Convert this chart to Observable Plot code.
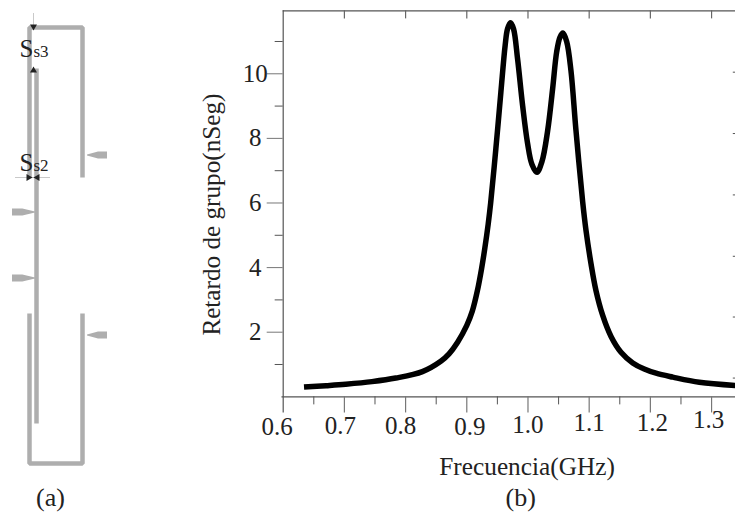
<!DOCTYPE html>
<html>
<head>
<meta charset="utf-8">
<script src="https://cdn.jsdelivr.net/npm/d3@7"></script>
<script src="https://cdn.jsdelivr.net/npm/@observablehq/plot@0.6"></script>
<style>
html,body{margin:0;padding:0;background:#fff}
#wrap{position:relative;width:735px;height:515px;overflow:hidden}
#wrap svg{position:absolute;left:0;top:0;background:transparent;overflow:visible}
</style>
</head>
<body>
<div id="wrap"></div>
<script>
// Panel (b): group delay curve
const freq = [0.634,0.67,0.702,0.745,0.784,0.8275,0.8575,0.871,0.885,0.9,0.909,0.9175,0.924,0.9295,0.935,0.939,0.9475,0.9557,0.9627,0.9666,0.9715,0.9764,0.983,0.9912,0.9993,1.0064,1.0146,1.0228,1.032,1.0403,1.0468,1.0522,1.0571,1.0632,1.0702,1.0784,1.0894,1.0948,1.103,1.1111,1.1221,1.1357,1.152,1.1712,1.19,1.2093,1.2367,1.28,1.34];
const delay = [0.30,0.345,0.39,0.47,0.58,0.78,1.10,1.33,1.69,2.21,2.65,3.3,3.95,4.6,5.35,6.0,7.68,9.43,10.88,11.39,11.58,11.39,10.46,9.02,7.85,7.2,6.95,7.28,8.22,9.54,10.67,11.13,11.26,11.0,10.1,8.25,6.03,5.15,4.12,3.29,2.52,1.87,1.38,1.05,0.86,0.73,0.61,0.45,0.35];
const xMajor = [0.6,0.7,0.8,0.9,1.0,1.1,1.2,1.3];
const xMinor = [0.65,0.75,0.85,0.95,1.05,1.15,1.25,1.35];
const xLabels = ["0.6","0.7","0.8","0.9","1.0","1.1","1.2","1.3"];
const yMajor = [2,4,6,8,10];
const yMinor = [1,3,5,7,9,11];
const rightTicks = [0.58,2.47,4.35,6.25,8.15,10.05];
const xTitle = "Frecuencia(GHz)";
const yTitle = "Retardo de grupo(nSeg)";
const panelB = "(b)";

// Panel (a): resonator schematic, in picture units
const upperStrip = {x:[29,29,82,82], y:[177,27,27,177]};
const lowerStrip = {x:[29,29,82,82], y:[313,463,463,313]};
const feedLine = {x:[36,36], y:[68,423]};
const feeds = [
  {tip:87,base:107,y:155},
  {tip:35,base:12,y:212},
  {tip:35,base:12,y:278},
  {tip:87,base:107,y:335}
];
const panelA = "(a)";

const serif = "'Liberation Serif','Times New Roman',serif";
const axisColor = "#555";
const xDomain = [0.6,1.3391], yDomain = [0,11.95];
const xRange = [282.7,735], yRange = [396.3,10.3];
const curve = freq.map((f,i)=>({f,d:delay[i]}));
const labelDx = [-6,-4,-5,3,0,0,2,-3];
const labelY = [-0.94,-0.9,-0.9,-0.94,-0.88,-0.81,-0.81,-0.72];

const main = Plot.plot({
  width:735,height:515,marginLeft:282.7,marginRight:0,marginTop:10.3,marginBottom:118.7,
  style:{fontFamily:serif,background:"transparent",color:"#222"},
  x:{domain:xDomain,range:xRange,axis:null},
  y:{domain:yDomain,range:yRange,axis:null},
  marks:[
    Plot.ruleX([0.6],{y1:-0.5,y2:11.95,stroke:axisColor,strokeWidth:1.2}),
    Plot.ruleY([11.95],{x1:0.6,x2:1.3391,stroke:axisColor,strokeWidth:1.2}),
    Plot.ruleY([0],{x1:0.598,x2:1.3391,stroke:axisColor,strokeWidth:1.2}),
    Plot.ruleX(xMajor.slice(1),{y1:0,y2:-0.5,stroke:"#777",strokeWidth:1.2}),
    Plot.ruleX(xMinor,{y1:0,y2:-0.25,stroke:axisColor,strokeWidth:1}),
    Plot.ruleX(xMajor.slice(1),{y1:11.95,y2:11.7,stroke:"#666",strokeWidth:1.2}),
    Plot.axisY(yMajor,{anchor:"left",tickSize:16,tickPadding:12,textAnchor:"middle",fontSize:25,label:null,stroke:"#777",fill:"#222"}),
    Plot.ruleY(yMinor,{x1:0.5869,x2:0.6,stroke:axisColor,strokeWidth:1}),
    Plot.ruleY(rightTicks,{x1:1.3355,x2:1.3391,stroke:axisColor,strokeWidth:1}),
    ...xLabels.map((t,i)=>Plot.text([t],{x:[xMajor[i]],y:[labelY[i]],dx:labelDx[i],text:d=>d,fontSize:25,fill:"#222"})),
    Plot.line(curve,{x:"f",y:"d",stroke:"#000",strokeWidth:5.5,curve:"catmull-rom",strokeLinejoin:"round",strokeLinecap:"butt"}),
    Plot.text([xTitle],{x:[0.9985],y:[-2.18],text:d=>d,fontSize:25.3,fill:"#222"}),
    Plot.text([yTitle],{x:[0.4836],y:[5.64],text:d=>d,rotate:-90,fontSize:25.2,fill:"#222"}),
    Plot.text([panelB],{x:[0.988],y:[-3.12],text:d=>d,fontSize:26,fill:"#222"})
  ]
});

const strip = (s)=>s.x.map((x,i)=>({x,y:s.y[i]}));
const feedShape = (f)=>{
  const m = f.tip+(f.base-f.tip)*0.55;
  return [
    {x:f.tip,y1:f.y-0.5,y2:f.y+0.5,k:f.y},
    {x:m,y1:f.y-3.5,y2:f.y+3.5,k:f.y},
    {x:f.base,y1:f.y-3.5,y2:f.y+3.5,k:f.y}
  ];
};
const lineStyle = {x:"x",y:"y",stroke:"#aeaeae",strokeWidth:4.5,strokeLinejoin:"miter",strokeLinecap:"butt"};
const schematic = Plot.plot({
  width:130,height:515,margin:0,
  style:{fontFamily:serif,background:"transparent",color:"#222"},
  x:{domain:[0,130],range:[0,130],axis:null},
  y:{domain:[0,515],range:[0,515],axis:null},
  marks:[
    Plot.line(strip(upperStrip),lineStyle),
    Plot.line(strip(lowerStrip),lineStyle),
    Plot.line(strip(feedLine),lineStyle),
    Plot.area(feeds.flatMap(feedShape),{x1:"x",y1:"y1",y2:"y2",z:"k",fill:"#aeaeae"}),
    Plot.ruleX([33],{y1:13,y2:25,stroke:"#bbb",strokeWidth:0.8}),
    Plot.ruleY([177],{x1:15,x2:50,stroke:"#bbb",strokeWidth:0.8}),
    Plot.dot([{x:33,y:26,r:180},{x:33,y:70,r:0},{x:28,y:177,r:90},{x:37,y:177,r:-90}],{x:"x",y:"y",rotate:"r",symbol:"triangle",r:2.6,fill:"#222",stroke:"none"}),
    Plot.text(["Ss3"],{x:[19],y:[48],text:d=>d,textAnchor:"start",fontSize:25,fill:"#222"}),
    Plot.text(["Ss2"],{x:[19],y:[162],text:d=>d,textAnchor:"start",fontSize:25,fill:"#222"}),
    Plot.text([panelA],{x:[50],y:[497],text:d=>d,fontSize:26,fill:"#222"})
  ]
});
// The subscript-like part of the labels is set smaller.
schematic.querySelectorAll("text").forEach(t=>{
  const s=t.textContent;
  if(s==="Ss3"||s==="Ss2"){
    const parent = t.querySelector("tspan") || t;
    parent.textContent="";
    const a=document.createElementNS("http://www.w3.org/2000/svg","tspan");a.textContent="S";
    const b=document.createElementNS("http://www.w3.org/2000/svg","tspan");b.textContent=s.slice(1);b.setAttribute("font-size","17");
    parent.append(a,b);
  }
});
document.getElementById("wrap").append(main,schematic);
</script>
</body>
</html>
